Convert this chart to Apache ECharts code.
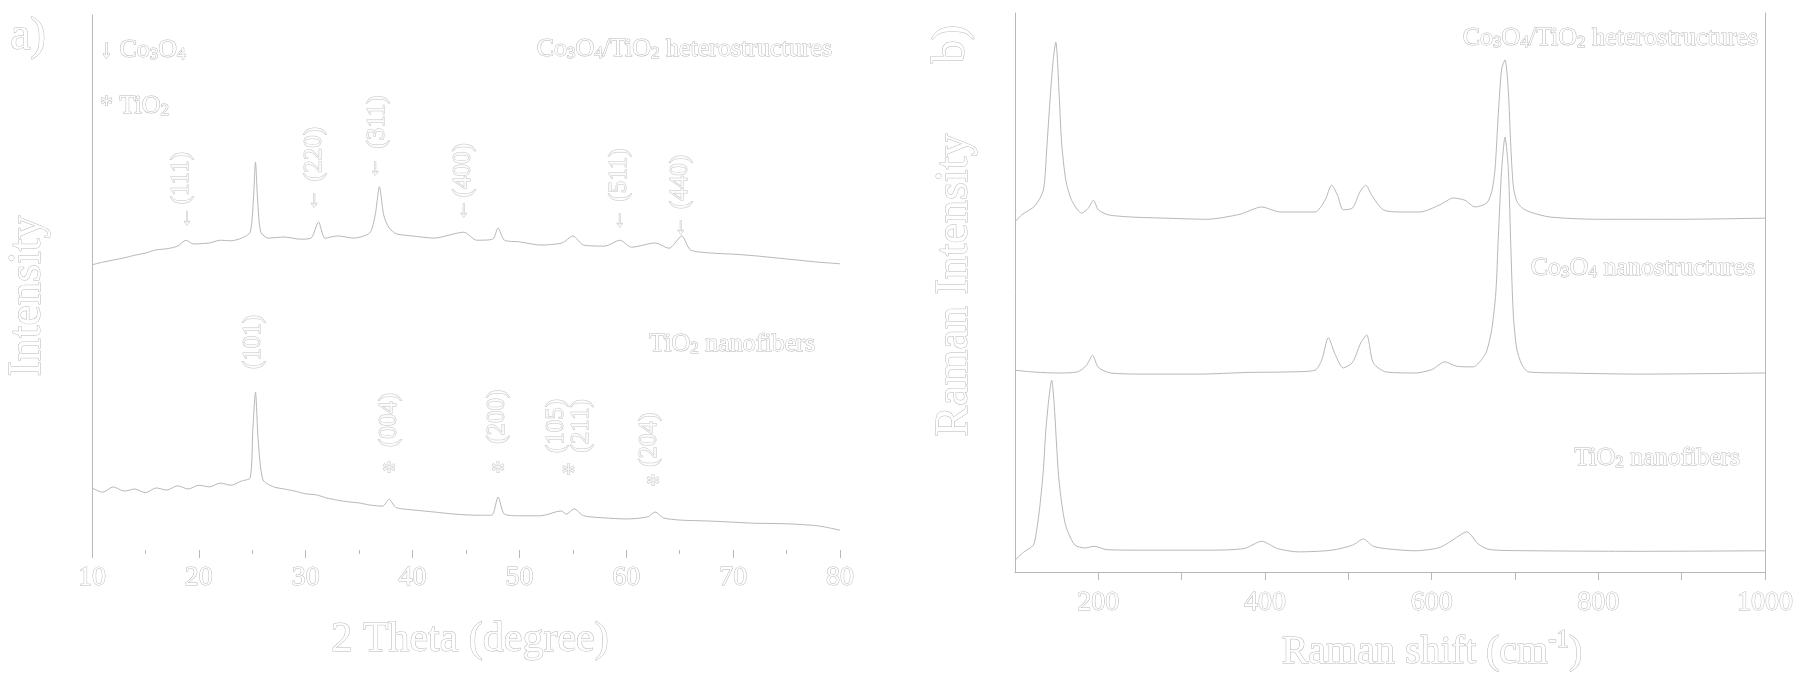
<!DOCTYPE html>
<html><head><meta charset="utf-8">
<script src="https://cdn.jsdelivr.net/npm/echarts@6/dist/echarts.min.js"></script>
<style>html,body{margin:0;padding:0;background:#fff}#c{width:1805px;height:687px}</style>
</head><body><div id="c"></div>
<script>
// ---------- XRD (2 theta, intensity) ----------
const xrdHetero = [[10,53.3],[11,53.8],[12,54.2],[13,54.6],[14,55.1],[15,55.5],[16,56.1],[17,56.3],[18,56.8],[18.8,57.9],[19.5,57.2],[21,57.4],[22,57.9],[23,57.8],[24,58.3],[24.8,59.4],[25.1,65.4],[25.3,72.5],[25.5,65.4],[25.8,59.4],[26.5,58.3],[28,58.5],[29.5,58.1],[30.5,58.3],[31.2,61.3],[31.8,58.3],[33,58.7],[34.5,58.3],[36,59.3],[36.5,62.6],[36.9,67.9],[37.3,62.6],[37.8,60.2],[38.5,59.1],[40,58.7],[42,58.3],[44.8,59.4],[46,57.9],[47.5,58.1],[48,60.2],[48.6,57.9],[50,57.6],[52,57.0],[54,57.4],[55,58.7],[56,57.0],[58,56.8],[59.4,57.9],[60.5,56.6],[62.7,57.4],[64,56.4],[65.2,58.7],[66,56.1],[68,55.5],[70,55.3],[72,55.0],[74,54.6],[76,54.2],[78,53.8],[80,53.5]];
const xrdTiO2 = [[10,11.6],[11,10.8],[12,11.8],[13,11.0],[14,11.4],[15,10.7],[16,11.6],[17,11.2],[18,12.0],[19,11.4],[20,12.1],[21,11.8],[22,12.5],[23,12.1],[24,12.9],[24.8,13.5],[25.05,22.4],[25.3,29.5],[25.55,20.6],[26,13.1],[27,11.8],[28,11.4],[29,11.0],[30,10.5],[31,10.3],[32,9.7],[33,9.3],[34,9.0],[35,8.8],[36,8.4],[37.2,8.2],[37.8,9.5],[38.4,8.0],[39,7.7],[40,7.5],[42,7.1],[44,6.7],[46,6.5],[47.4,6.5],[48,9.9],[48.6,6.7],[50,6.4],[52,6.4],[53.9,7.3],[54.4,6.7],[55.1,7.7],[56,6.4],[58,6.0],[60,5.8],[62,6.2],[62.7,7.1],[63.5,6.0],[65,5.6],[68,5.4],[70,5.2],[72,5.0],[75,4.9],[78,4.5],[80,3.7]];
// peak labels: [2theta, height, text]
const coPeakLabels = [[18.4,69.5,'(111)'],[30.8,74.0,'(220)'],[36.7,80.0,'(311)'],[44.8,71.0,'(400)'],[59.4,70.1,'(511)'],[65.1,68.8,'(440)']];
const coArrows = [[18.9,62.1,'↓'],[30.8,65.4,'↓'],[36.5,71.4,'↓'],[44.8,63.6,'↓'],[59.4,61.7,'↓'],[65.1,60.4,'↓']];
const tiPeakLabels = [[25.1,38.9,'(101)'],[37.8,24.3,'(004)'],[47.9,24.9,'(200)'],[54.6,23.2,'(105)\n(211)'],[62.2,20.6,'(204)']];
const tiStars = [[37.8,14.4,'*'],[48.0,14.4,'*'],[54.6,14.0,'*'],[62.5,12.0,'*']];
const xrdTicks = [10,20,30,40,50,60,70,80];

// ---------- Raman (shift, intensity) ----------
const ramanHetero = [[100,62.6],[108,63.9],[124,65.5],[134,68.3],[138,75.5],[142,84.4],[146,91.9],[149,94.8],[153,85.3],[156,76.7],[161,70.1],[168,66.5],[180,64.2],[188,65.1],[194,66.5],[200,64.8],[212,63.9],[240,63.5],[280,63.3],[330,63.1],[370,64.0],[396,65.3],[418,64.4],[460,64.4],[472,66.5],[480,69.2],[487,67.4],[494,64.8],[505,65.1],[514,68.0],[521,69.2],[528,67.4],[542,64.8],[562,64.4],[586,64.4],[610,65.7],[626,66.9],[640,66.5],[652,65.3],[666,66.0],[672,68.0],[676,72.0],[680,82.0],[684,90.0],[688,91.6],[692,86.0],[695,76.0],[698,69.0],[702,66.4],[708,65.2],[718,64.4],[742,63.5],[800,63.1],[900,63.1],[1000,63.3]];
const ramanCo3O4 = [[100,36.1],[120,35.8],[150,35.6],[175,35.8],[186,37.0],[193,38.8],[200,36.6],[215,35.6],[260,35.4],[320,35.4],[380,35.7],[430,35.8],[460,36.1],[468,37.9],[476,41.9],[484,39.0],[494,36.5],[505,37.5],[515,41.0],[522,42.4],[530,37.4],[545,35.8],[580,35.6],[600,36.2],[616,37.6],[630,36.8],[650,36.7],[660,38.0],[666,39.5],[672,43.3],[677,50.0],[680,60.0],[684,72.0],[688,77.8],[692,72.0],[695,58.0],[698,46.0],[702,40.0],[708,37.2],[716,35.8],[760,35.6],[850,35.4],[1000,35.6]];
const ramanTiO2 = [[100,2.1],[110,3.5],[122,4.8],[126,7.5],[130,12.0],[134,18.2],[137,25.4],[141,31.5],[144,34.3],[147,30.0],[152,17.7],[156,12.3],[160,8.8],[164,7.0],[172,4.8],[184,4.3],[195,4.6],[210,4.0],[260,3.9],[330,3.9],[375,4.2],[396,5.5],[415,4.2],[440,3.6],[480,3.9],[505,4.8],[518,5.9],[530,4.6],[550,4.1],[580,3.8],[610,4.4],[630,6.2],[642,7.2],[656,5.0],[670,4.0],[720,3.8],[850,3.7],[1000,3.8]];
const ramanTicks = [200,400,600,800,1000];

// ---------- style ----------
const ink = '#b8b8b8';
const serif = '"Liberation Serif","Times New Roman",serif';
const outline = {color:'#fff', textBorderColor: ink, textBorderWidth: 1, fontFamily: serif};

function lineSeries(data, xi, yi){
  return {type:'line', data, xAxisIndex:xi, yAxisIndex:yi, showSymbol:false, symbol:'none',
    smooth:0.25, lineStyle:{color:ink, width:1}, silent:true, animation:false};
}
function labelSeries(data, xi, yi, rot, size){
  return {type:'scatter', data, xAxisIndex:xi, yAxisIndex:yi, symbolSize:0, silent:true, animation:false,
    label:Object.assign({show:true, position:'inside', rotate:rot, fontSize:size, lineHeight:size,
      formatter:p=>p.value[2]}, outline)};
}
function gtext(x, y, text, size, opts){
  const o = opts || {};
  const st = {text, x:0, y:0, font: size+'px '+serif, fill:'#fff', stroke:ink, lineWidth:1,
    textAlign:o.align||'center', align:o.align||'center', textVerticalAlign:'middle', verticalAlign:'middle'};
  if (o.rich) {
    st.rich = {
      m:{fontSize:size, fontFamily:serif, lineHeight:size+4, verticalAlign:'bottom'},
      s:{fontSize:Math.round(size*0.65), fontFamily:serif, lineHeight:3, verticalAlign:'bottom'},
      u:{fontSize:Math.round(size*0.62), fontFamily:serif, lineHeight:8, verticalAlign:'top'}
    };
  }
  return {type:'text', x, y, rotation:o.rot||0, silent:true, style:st};
}

const chart = echarts.init(document.getElementById('c'), null, {renderer:'canvas'});
chart.setOption({
  backgroundColor:'#fff',
  animation:false,
  grid:[
    {left:92, top:15, width:748, height:535},
    {left:1015, top:13, width:750, height:559}
  ],
  xAxis:[
    {type:'value', gridIndex:0, min:10, max:80, interval:10,
     axisLine:{show:false}, axisTick:{show:true, length:8, lineStyle:{color:ink}},
     minorTick:{show:true, splitNumber:2, length:4, lineStyle:{color:ink}},
     splitLine:{show:false},
     axisLabel:Object.assign({fontSize:28, margin:14, formatter:v=>xrdTicks.indexOf(v)>=0?String(v):''}, outline)},
    {type:'value', gridIndex:1, min:100, max:1000, interval:100,
     axisLine:{show:true, lineStyle:{color:ink, width:1}}, axisTick:{show:true, length:8, lineStyle:{color:ink}},
     splitLine:{show:false},
     axisLabel:Object.assign({fontSize:28, margin:17, showMinLabel:false, formatter:v=>ramanTicks.indexOf(v)>=0?String(v):''}, outline)}
  ],
  yAxis:[
    {type:'value', gridIndex:0, min:0, max:100, axisLine:{show:true, lineStyle:{color:ink}}, axisTick:{show:false}, axisLabel:{show:false}, splitLine:{show:false}},
    {type:'value', gridIndex:1, min:0, max:100, axisLine:{show:true, lineStyle:{color:ink}}, axisTick:{show:false}, axisLabel:{show:false}, splitLine:{show:false}},
    {type:'value', gridIndex:1, min:0, max:100, position:'right', axisLine:{show:true, lineStyle:{color:ink}}, axisTick:{show:false}, axisLabel:{show:false}, splitLine:{show:false}}
  ],
  series:[
    lineSeries(xrdHetero,0,0),
    lineSeries(xrdTiO2,0,0),
    labelSeries(coPeakLabels,0,0,90,25),
    labelSeries(coArrows,0,0,0,22),
    labelSeries(tiPeakLabels,0,0,90,25),
    labelSeries(tiStars,0,0,0,28),
    lineSeries(ramanHetero,1,1),
    lineSeries(ramanCo3O4,1,1),
    lineSeries(ramanTiO2,1,1)
  ],
  graphic:[
    gtext(28, 37, 'a)', 46),
    gtext(952, 44, 'b)', 46, {rot:Math.PI/2}),
    gtext(100, 48, '{m|↓ Co}{s|3}{m|O}{s|4}', 26, {align:'left', rich:true}),
    gtext(100, 104, '{m|* TiO}{s|2}', 26, {align:'left', rich:true}),
    gtext(832, 47, '{m|Co}{s|3}{m|O}{s|4}{m|/TiO}{s|2}{m| heterostructures}', 26, {align:'right', rich:true}),
    gtext(815, 342, '{m|TiO}{s|2}{m| nanofibers}', 26, {align:'right', rich:true}),
    gtext(1758, 36, '{m|Co}{s|3}{m|O}{s|4}{m|/TiO}{s|2}{m| heterostructures}', 26, {align:'right', rich:true}),
    gtext(1755, 266, '{m|Co}{s|3}{m|O}{s|4}{m| nanostructures}', 26, {align:'right', rich:true}),
    gtext(1740, 456, '{m|TiO}{s|2}{m| nanofibers}', 26, {align:'right', rich:true}),
    gtext(470, 640, '2 Theta (degree)', 42),
    gtext(1432, 650, '{m|Raman shift (cm}{u|-1}{m|)}', 40, {rich:true}),
    gtext(28, 296, 'Intensity', 46, {rot:Math.PI/2}),
    gtext(955, 285, 'Raman Intensity', 46, {rot:Math.PI/2})
  ]
});
</script></body></html>
